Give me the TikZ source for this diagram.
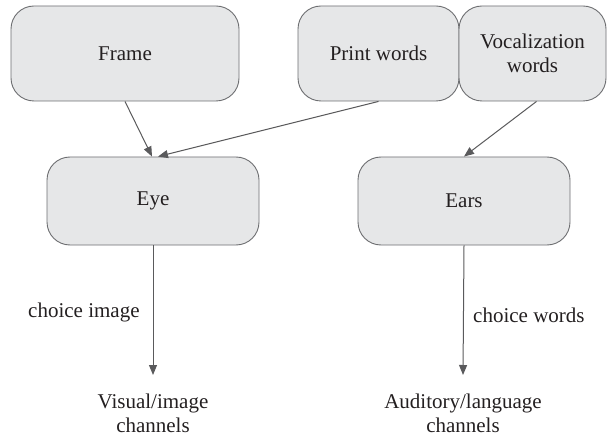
\documentclass[tikz,border=0pt]{standalone}
\usepackage{fontspec}
\setmainfont{Liberation Serif}
\usetikzlibrary{arrows.meta,calc}
\definecolor{boxfill}{HTML}{E6E7E8}
\definecolor{boxline}{HTML}{6D6E71}
\definecolor{arrowcol}{HTML}{5A5A5C}
\definecolor{txt}{HTML}{231F20}
\begin{document}
\begin{tikzpicture}[x=1pt,y=-1pt,
  every node/.style={text=txt,font=\fontsize{21}{24}\selectfont},
  rbox/.style={draw=boxline,fill=boxfill,line width=0.9pt,rounded corners=23pt,
    inner sep=0pt,align=center,anchor=center},
  conn/.style={draw=arrowcol,line width=1pt,-{Triangle[length=10pt,width=8pt]}},
  lbl/.style={inner sep=0pt,align=center}]
\useasboundingbox (0,0) rectangle (607,438);
\node[rbox,minimum width=228pt,minimum height=95pt] (frame) at (125,53.5) {Frame};
\node[rbox,minimum width=161pt,minimum height=95pt] (print) at (378.5,53.5) {Print words};
\node[rbox,minimum width=147pt,minimum height=95pt] (vocal) at (532.5,53.5) {Vocalization\\words};
\node[rbox,minimum width=212pt,minimum height=88pt] (eye) at (153,201) {Eye};
\node[rbox,minimum width=212pt,minimum height=88pt] (ears) at (464,201) {Ears};
\coordinate (eyeend) at (153,375);
\coordinate (earsend) at (463,375);
\node[lbl] (vis) at (153,413.5) {Visual/image\\channels};
\node[lbl] (aud) at (463,413.5) {Auditory/language\\channels};
\node[lbl,anchor=west] (ci) at (28,312) {choice image};
\node[lbl,anchor=west] (cw) at (473,315) {choice words};
\draw[conn] (frame.south) -- ($(eye.north)+(-1,0)$);
\draw[conn] (print.south) -- ($(eye.north)+(5,0)$);
\draw[conn] ($(vocal.south)+(4,0)$) -- (ears.north);
\draw[conn] (eye.south) -- (eyeend);
\draw[conn] (ears.south) -- (earsend);
\end{tikzpicture}
\end{document}
